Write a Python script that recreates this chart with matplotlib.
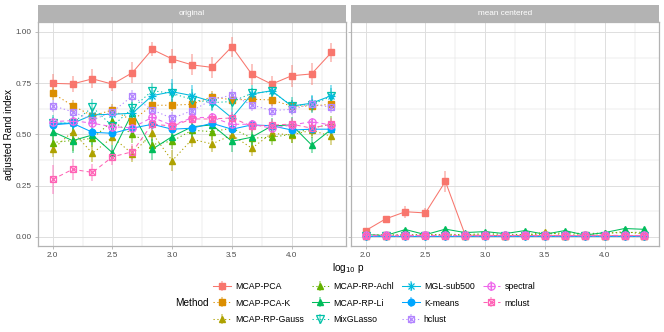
import matplotlib
matplotlib.use("Agg")
import matplotlib.pyplot as plt
from matplotlib.lines import Line2D
from matplotlib.legend_handler import HandlerTuple

plt.rcParams['font.family'] = ['Liberation Sans', 'DejaVu Sans']

# x positions (log10 p)
log10p = [2.0, 2.167, 2.333, 2.5, 2.667, 2.833, 3.0, 3.167, 3.333, 3.5, 3.667, 3.833, 4.0, 4.167, 4.333]

methods = ["MCAP-PCA", "MCAP-PCA-K", "MCAP-RP-Gauss", "MCAP-RP-Achl", "MCAP-RP-Li",
           "MixGLasso", "MGL-sub500", "K-means", "hclust", "spectral", "mclust"]
colors = ["#F8766D", "#DB8E00", "#AEA200", "#64B200", "#00BD5C", "#00C1A7",
          "#00BADE", "#00A6FF", "#B385FF", "#EF67EB", "#FF63B6"]
linestyles = ["solid", "dotted", "dotted", "dotted", "solid", "dotted",
              "solid", "solid", "dotted", "dashed", "dashed"]
shapes = ["sq", "sq", "tri", "tri", "tri", "dtri", "ast", "circ", "sqx", "oplus", "sqx"]

# panel "original": mean ARI and half error bar
orig_pca = [0.749, 0.746, 0.771, 0.745, 0.801, 0.915, 0.868, 0.839, 0.827, 0.928, 0.793, 0.745, 0.786, 0.795, 0.900]
orig_pca_err = [0.047, 0.038, 0.047, 0.033, 0.05, 0.034, 0.051, 0.051, 0.051, 0.048, 0.051, 0.04, 0.053, 0.055, 0.045]
orig_pca_k = [0.700, 0.640, 0.590, 0.619, 0.567, 0.642, 0.642, 0.647, 0.684, 0.668, 0.671, 0.668, 0.638, 0.638, 0.647]
orig_pca_k_err = [0.03, 0.03, 0.04, 0.03, 0.04, 0.03, 0.03, 0.03, 0.03, 0.03, 0.03, 0.03, 0.03, 0.03, 0.03]
orig_gauss = [0.427, 0.513, 0.407, 0.486, 0.405, 0.505, 0.371, 0.476, 0.453, 0.497, 0.432, 0.505, 0.497, 0.520, 0.490]
orig_gauss_err = [0.04, 0.05, 0.04, 0.04, 0.04, 0.04, 0.05, 0.04, 0.04, 0.04, 0.04, 0.04, 0.04, 0.04, 0.04]
orig_achl = [0.460, 0.470, 0.480, 0.565, 0.500, 0.450, 0.467, 0.520, 0.513, 0.530, 0.481, 0.486, 0.500, 0.530, 0.550]
orig_achl_err = [0.04, 0.05, 0.04, 0.04, 0.04, 0.04, 0.04, 0.04, 0.04, 0.04, 0.05, 0.04, 0.04, 0.04, 0.04]
orig_li = [0.513, 0.469, 0.497, 0.410, 0.606, 0.427, 0.489, 0.537, 0.546, 0.466, 0.486, 0.541, 0.546, 0.448, 0.525]
orig_li_err = [0.05, 0.06, 0.05, 0.04, 0.05, 0.05, 0.04, 0.05, 0.04, 0.05, 0.05, 0.04, 0.04, 0.04, 0.04]
orig_mixg = [0.554, 0.555, 0.632, 0.540, 0.627, 0.713, 0.700, 0.670, 0.655, 0.660, 0.700, 0.710, 0.640, 0.645, 0.685]
orig_mixg_err = [0.04, 0.04, 0.04, 0.04, 0.04, 0.04, 0.05, 0.05, 0.04, 0.04, 0.04, 0.04, 0.04, 0.04, 0.04]
orig_mgl = [0.554, 0.554, 0.595, 0.598, 0.603, 0.689, 0.708, 0.689, 0.660, 0.580, 0.697, 0.713, 0.638, 0.652, 0.689]
orig_mgl_err = [0.03, 0.03, 0.03, 0.03, 0.04, 0.04, 0.06, 0.05, 0.04, 0.04, 0.03, 0.03, 0.03, 0.04, 0.05]
orig_kmeans = [0.546, 0.554, 0.510, 0.505, 0.530, 0.549, 0.525, 0.530, 0.554, 0.525, 0.546, 0.542, 0.521, 0.525, 0.525]
orig_kmeans_err = [0.02, 0.02, 0.02, 0.02, 0.02, 0.02, 0.02, 0.02, 0.02, 0.02, 0.02, 0.02, 0.02, 0.02, 0.02]
orig_hclust = [0.640, 0.610, 0.570, 0.610, 0.687, 0.619, 0.578, 0.616, 0.668, 0.692, 0.643, 0.616, 0.622, 0.648, 0.632]
orig_hclust_err = [0.03, 0.03, 0.03, 0.03, 0.03, 0.03, 0.03, 0.03, 0.03, 0.03, 0.03, 0.03, 0.03, 0.03, 0.03]
orig_spectral = [0.562, 0.567, 0.554, 0.537, 0.532, 0.583, 0.544, 0.581, 0.583, 0.549, 0.549, 0.530, 0.545, 0.562, 0.545]
orig_spectral_err = [0.02, 0.02, 0.02, 0.02, 0.02, 0.02, 0.02, 0.02, 0.02, 0.02, 0.02, 0.02, 0.02, 0.02, 0.02]
orig_mclust = [0.280, 0.329, 0.314, 0.390, 0.415, 0.550, 0.540, 0.575, 0.575, 0.580, 0.540, 0.545, 0.550, 0.530, 0.550]
orig_mclust_err = [0.07, 0.05, 0.04, 0.04, 0.04, 0.04, 0.03, 0.03, 0.03, 0.03, 0.03, 0.03, 0.03, 0.03, 0.03]

# panel "mean centered"
mc_pca = [0.030, 0.087, 0.122, 0.116, 0.270, 0.008, 0.006, 0.005, 0.006, 0.005, 0.005, 0.004, 0.005, 0.004, 0.005]
mc_pca_err = [0.012, 0.015, 0.03, 0.022, 0.05, 0.005, 0.004, 0.004, 0.004, 0.004, 0.004, 0.004, 0.004, 0.004, 0.004]
mc_pca_k = [0.010, 0.008, 0.007, 0.009, 0.008, 0.006, 0.006, 0.005, 0.006, 0.006, 0.005, 0.006, 0.005, 0.006, 0.005]
mc_gauss = [0.005, 0.004, 0.006, 0.012, 0.006, 0.005, 0.010, 0.006, 0.008, 0.022, 0.008, 0.010, 0.015, 0.025, 0.012]
mc_achl = [0.006, 0.008, 0.010, 0.006, 0.012, 0.010, 0.015, 0.012, 0.010, 0.012, 0.020, 0.015, 0.018, 0.020, 0.022]
mc_li = [0.010, 0.006, 0.035, 0.010, 0.037, 0.020, 0.025, 0.015, 0.030, 0.012, 0.030, 0.008, 0.020, 0.040, 0.036]
mc_mixg = [0.003, 0.003, 0.003, 0.003, 0.003, 0.003, 0.003, 0.003, 0.003, 0.003, 0.003, 0.003, 0.003, 0.003, 0.003]
mc_mgl = [0.002, 0.002, 0.002, 0.002, 0.002, 0.002, 0.002, 0.002, 0.002, 0.002, 0.002, 0.002, 0.002, 0.002, 0.002]
mc_kmeans = [0.001, 0.001, 0.001, 0.001, 0.001, 0.001, 0.001, 0.001, 0.001, 0.001, 0.001, 0.001, 0.001, 0.001, 0.001]
mc_hclust = [0.005, 0.004, 0.005, 0.006, 0.005, 0.004, 0.005, 0.004, 0.006, 0.005, 0.004, 0.005, 0.005, 0.004, 0.005]
mc_spectral = [0.007, 0.006, 0.007, 0.006, 0.007, 0.006, 0.006, 0.007, 0.006, 0.007, 0.006, 0.006, 0.007, 0.006, 0.006]
mc_mclust = [0.004, 0.005, 0.004, 0.004, 0.005, 0.004, 0.004, 0.005, 0.004, 0.004, 0.005, 0.004, 0.004, 0.005, 0.004]
mc_err = [0.005] * 15

panels = {
    "original": (
        [orig_pca, orig_pca_k, orig_gauss, orig_achl, orig_li, orig_mixg, orig_mgl,
         orig_kmeans, orig_hclust, orig_spectral, orig_mclust],
        [orig_pca_err, orig_pca_k_err, orig_gauss_err, orig_achl_err, orig_li_err, orig_mixg_err,
         orig_mgl_err, orig_kmeans_err, orig_hclust_err, orig_spectral_err, orig_mclust_err]),
    "mean centered": (
        [mc_pca, mc_pca_k, mc_gauss, mc_achl, mc_li, mc_mixg, mc_mgl,
         mc_kmeans, mc_hclust, mc_spectral, mc_mclust],
        [mc_pca_err] + [mc_err] * 10),
}

dash = {"solid": "-", "dotted": (0, (1.2, 2.5)), "dashed": (0, (4, 3))}
MS = 4.4


def marker_layers(shape, color):
    # list of (marker, kwargs) drawn on top of each other
    if shape == "sq":
        return [("s", dict(mfc=color, mec=color, ms=MS))]
    if shape == "tri":
        return [("^", dict(mfc=color, mec=color, ms=MS + 0.4))]
    if shape == "dtri":
        return [("v", dict(mfc="none", mec=color, ms=MS + 0.8, mew=0.9))]
    if shape == "ast":
        return [("+", dict(mec=color, ms=MS + 1, mew=0.9)), ("x", dict(mec=color, ms=MS, mew=0.9))]
    if shape == "circ":
        return [("o", dict(mfc=color, mec=color, ms=MS + 0.3))]
    if shape == "sqx":
        return [("s", dict(mfc="none", mec=color, ms=MS + 0.6, mew=0.9)), ("x", dict(mec=color, ms=MS - 0.4, mew=0.9))]
    if shape == "oplus":
        return [("o", dict(mfc="none", mec=color, ms=MS + 0.8, mew=0.9)), ("+", dict(mec=color, ms=MS + 0.8, mew=0.9))]


fig = plt.figure(figsize=(6.64, 3.32), dpi=100)
W, H = 664.0, 332.0
border = "#B3B3B3"
grid = "#DEDEDE"

for i, (name, (vals, errs)) in enumerate(panels.items()):
    left = [38, 351][i]
    ax = fig.add_axes([left / W, (H - 246) / H, 308 / W, 224.3 / H])
    for k in range(len(methods)):
        c = colors[k]
        ax.vlines(log10p, [v - e for v, e in zip(vals[k], errs[k])],
                  [v + e for v, e in zip(vals[k], errs[k])],
                  color=c, lw=1.1, alpha=0.55, zorder=2)
        ax.plot(log10p, vals[k], color=c, lw=0.75, ls=dash[linestyles[k]], zorder=3)
        for m, kw in marker_layers(shapes[k], c):
            ax.plot(log10p, vals[k], ls="none", marker=m, zorder=4, **kw)

    ax.set_xlim(1.877, 4.455)
    ax.set_ylim(-0.0454, 1.050)
    ax.set_xticks([2.0, 2.5, 3.0, 3.5, 4.0])
    ax.set_xticks([2.25, 2.75, 3.25, 3.75, 4.25], minor=True)
    ax.set_yticks([0.0, 0.25, 0.5, 0.75, 1.0])
    ax.set_yticks([0.125, 0.375, 0.625, 0.875], minor=True)
    ax.grid(True, which="major", color=grid, lw=0.7, zorder=0)
    ax.grid(True, which="minor", color=grid, lw=0.35, zorder=0)
    ax.set_axisbelow(True)
    for s in ax.spines.values():
        s.set_color(border)
        s.set_linewidth(0.9)
    ax.tick_params(which="major", length=2.5, width=0.6, color=border,
                   labelsize=5.9, labelcolor="#4D4D4D", pad=2)
    ax.tick_params(which="minor", length=0)
    if i == 0:
        ax.set_yticklabels(["0.00", "0.25", "0.50", "0.75", "1.00"])
    else:
        ax.set_yticklabels([])
    ax.set_xticklabels(["2.0", "2.5", "3.0", "3.5", "4.0"])

    strip = fig.add_axes([left / W, (H - 21.7) / H, 308 / W, 16.7 / H])
    strip.set_facecolor(border)
    strip.set_xticks([])
    strip.set_yticks([])
    for s in strip.spines.values():
        s.set_visible(False)
    strip.text(0.5, 0.5, name, ha="center", va="center", color="white", fontsize=5.9,
               transform=strip.transAxes)

fig.text(9 / W, (H - 134) / H, "adjusted Rand index", rotation=90, ha="center", va="center", fontsize=7.2)
fig.text(348 / W, (H - 268) / H, r"log$_{10}$ p", ha="center", va="center", fontsize=7.2)

# legend
handles = []
for k in range(len(methods)):
    c = colors[k]
    parts = [Line2D([], [], color=c, lw=0.75, ls=dash[linestyles[k]]),
             Line2D([], [], ls="none", marker="|", ms=7, mew=1.1, color=c, alpha=0.55)]
    for m, kw in marker_layers(shapes[k], c):
        parts.append(Line2D([], [], ls="none", marker=m, **kw))
    handles.append(tuple(parts))

fig.legend(handles, methods, ncol=4, loc="center left", bbox_to_anchor=(213 / W, (H - 303) / H),
           frameon=False, fontsize=6.3, handlelength=2.0, handletextpad=0.5,
           columnspacing=0.9, labelspacing=0.85, borderpad=0, borderaxespad=0,
           handler_map={tuple: HandlerTuple(ndivide=1)})
fig.text(175 / W, (H - 303) / H, "Method", ha="left", va="center", fontsize=7.2)

fig.savefig("out.png", dpi=100)
